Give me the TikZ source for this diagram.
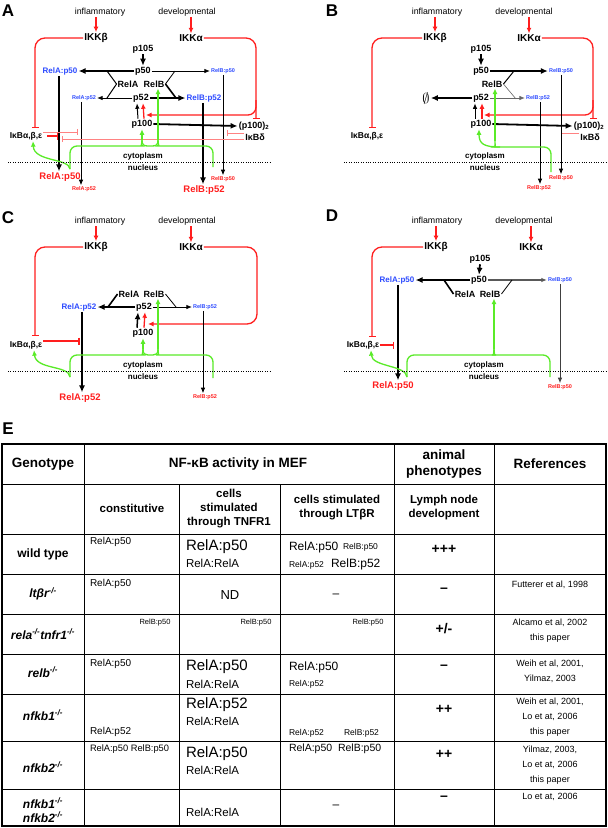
\documentclass[tikz,border=0pt]{standalone}
\usepackage{fontspec}
\setmainfont{Liberation Sans}
\usetikzlibrary{arrows.meta,calc}
\definecolor{nfred}{RGB}{255,30,30}
\definecolor{nfpink}{RGB}{255,130,130}
\definecolor{nfblue}{RGB}{45,75,255}
\definecolor{nfgreen}{RGB}{90,235,40}
\newcommand{\fsz}[2]{\fontsize{#1}{#2}\selectfont}
\newcommand{\ko}{\textsuperscript{-/-}}
\tikzset{
 lbl/.style={font=\fsz{8.8}{10}},
 bb/.style={font=\bfseries\fsz{9}{10}},
 ikk/.style={font=\bfseries\fsz{10}{11}},
 ikbf/.style={font=\bfseries\fsz{8.5}{10}},
 bluebig/.style={font=\bfseries\fsz{8}{9}, text=nfblue},
 bluesm/.style={font=\bfseries\fsz{5.5}{6}, text=nfblue},
 redbig/.style={font=\bfseries\fsz{9.5}{11}, text=nfred},
 redsm/.style={font=\bfseries\fsz{5.5}{6}, text=nfred},
 cyto/.style={font=\bfseries\fsz{8}{9}},
 plbl/.style={font=\bfseries\fsz{17}{18}},
 thk/.style={draw=black, line width=1.8pt, -{Latex[length=7pt,width=6pt]}},
 thn/.style={draw=black, line width=0.8pt, -{Latex[length=5.5pt,width=4.5pt]}},
 rar/.style={draw=nfred, line width=1.3pt, -{Latex[length=5.5pt,width=5pt]}},
 inh/.style={draw=nfred, line width=1.3pt, -{Bar[width=7pt]}},
 pinh/.style={draw=nfpink, line width=1pt, -{Bar[width=6pt]}},
 grn/.style={draw=nfgreen, line width=1.3pt},
 garr/.style={grn, -{Latex[length=5.5pt,width=5pt]}},
 dotl/.style={draw=black, line width=1pt, dash pattern=on 1pt off 1.4pt},
 tline/.style={draw=black, line width=1pt},
 hdr/.style={font=\bfseries\fsz{13.5}{16}, align=center},
 shdr/.style={font=\bfseries\fsz{11.5}{14}, align=center},
 geno/.style={font=\bfseries\itshape\fsz{12}{14}, align=center},
 cellt/.style={anchor=west, inner sep=0pt},
 cbig/.style={cellt, font=\fsz{15}{16}},
 cmed/.style={cellt, font=\fsz{11.5}{13}},
 ctw/.style={cellt, font=\fsz{12}{13}},
 csm/.style={cellt, font=\fsz{10}{11}},
 cxs/.style={cellt, font=\fsz{8.5}{10}},
 ctn/.style={inner sep=0pt, font=\fsz{7.5}{9}},
 refs/.style={font=\fsz{9}{16}, align=center},
 pm/.style={font=\bfseries\fsz{14}{16}},
}
\begin{document}
\begin{tikzpicture}[x=1pt,y=-1pt, every node/.style={inner sep=1.2pt, outer sep=0pt}]
\fill[white] (0,0) rectangle (608,828);
\useasboundingbox (0,0) rectangle (608,828);

%================ PANEL A ================
\node[plbl] (a-lbl) at (8,11) {A};
\node[lbl] (a-infl) at (100,12) {inflammatory};
\node[lbl] (a-dev) at (187,12) {developmental};
\node[ikk] (a-ikkb) at (96,38) {IKKβ};
\node[ikk] (a-ikka) at (191,38) {IKKα};
\node[bb] (a-p105) at (143,49) {p105};
\node[bb] (a-p50) at (143,71) {p50};
\node[bluebig] (a-relap50) at (60,71) {RelA:p50};
\node[bluesm] (a-relbp50) at (223,71) {RelB:p50};
\node[bb] (a-rela) at (128,84) {RelA};
\node[bb] (a-relb) at (154,84) {RelB};
\node[bb] (a-p52) at (141,98) {p52};
\node[bluesm] (a-relap52) at (84,98) {RelA:p52};
\node[bluebig] (a-relbp52) at (204,98) {RelB:p52};
\node[bb] (a-p100) at (142,124) {p100};
\node[bb] (a-p100d) at (254,126) {(p100)\textsubscript{2}};
\node[bb] (a-ikbd) at (255,137) {IκBδ};
\node[ikbf] (a-ikb) at (26,136) {IκBα,β,ε};
\node[cyto] (a-cyto) at (143,156) {cytoplasm};
\node[cyto] (a-nucl) at (143,168) {nucleus};
\node[redbig] (a-nrelap50) at (60,177) {RelA:p50};
\node[redsm] (a-nrelap52) at (84,189) {RelA:p52};
\node[redbig] (a-nrelbp52) at (204,190) {RelB:p52};
\node[redsm] (a-nrelbp50) at (223,179) {RelB:p50};
\coordinate (a-it) at (35,128);
\coordinate (a-it2) at (256,119);
\coordinate (a-rb) at (256,100);
\coordinate (a-rtip) at (146,115);
\coordinate (a-k1) at (107,71);
\coordinate (a-k2) at (107,98);
\coordinate (a-k3) at (175,71);
\coordinate (a-k4) at (176,98);
\coordinate (a-i1) at (78,132);
\coordinate (a-i2) at (58,136);
\coordinate (a-d1) at (227,133);
\coordinate (a-d2) at (62,139);
\coordinate (a-gl) at (70,169);
\coordinate (a-gr) at (213,167);
\coordinate (a-gb1) at (142,140);
\coordinate (a-gb2) at (158,140);
\coordinate (a-dl) at (8,162);
\coordinate (a-dr) at (270,162);
\draw[rar] (a-ikkb.north |- a-infl.south) -- (a-ikkb.north);
\draw[rar] (a-ikka.north |- a-dev.south) -- (a-ikka.north);
\draw[inh, rounded corners=10pt] (a-ikkb.west) -| (a-it);
\draw[inh, rounded corners=10pt] (a-ikka.east) -| (a-it2);
\draw[rar, rounded corners=8pt] (a-rb) |- (a-rtip);
\draw[thk] (a-p105.south) -- (a-p50.north);
\draw[thk] (a-p50.west) -- (a-relap50.east);
\draw[thn] (a-p50.east) -- (a-relbp50.west);
\draw[thn] (a-p52.west) -- (a-relap52.east);
\draw[thk] (a-p52.east) -- (a-relbp52.west);
\draw[thk] (a-p100.east) -- (a-p100d.west);
\draw[line width=1pt] (a-k1) -- (a-rela.west) -- (a-k2);
\draw[line width=0.8pt] (a-k3) -- (a-relb.east);
\draw[line width=1.6pt] (a-relb.east) -- (a-k4);
\draw[thn, line width=1pt] ([xshift=-4pt]a-p100.north) -- ([xshift=-4pt]a-p52.south);
\draw[rar] ([xshift=2pt]a-p100.north) -- ([xshift=2pt]a-p52.south);
\draw[thk] ([xshift=-1pt]a-relap50.south) -- ([xshift=-1pt]a-relap50.south |- a-nrelap50.north);
\draw[thn] ([xshift=-3pt]a-relap52.south) -- ([xshift=-3pt]a-relap52.south |- a-nrelap52.north);
\draw[thk] ([xshift=-1pt]a-relbp52.south) -- ([xshift=-1pt]a-relbp52.south |- a-nrelbp52.north);
\draw[thn] (a-relbp50.south) -- (a-relbp50.south |- a-nrelbp50.north);
\draw[pinh] (a-ikb.east |- a-i1) -- (a-i1);
\draw[inh] ([xshift=4pt]a-ikb.east |- a-i2) -- (a-i2);
\draw[pinh] (a-ikbd.west |- a-d1) -- (a-d1);
\draw[pinh] (a-ikbd.west |- a-d2) -- (a-d2);
\draw[garr] (a-gl) .. controls (69,158) and (34,162) .. ([xshift=7pt]a-ikb.south);
\draw[grn, rounded corners=7pt] (a-gl) |- (136,146) .. controls (140,146) and (142,145) .. (a-gb1);
\draw[garr] (a-gb1) -- (a-p100.south);
\draw[grn] (a-gb1) .. controls (142,145) and (144,146) .. (148,146) -- (152,146) .. controls (156,146) and (158,145) .. (a-gb2);
\draw[garr] (a-gb2) -- ([xshift=4pt]a-relb.south);
\draw[grn, rounded corners=7pt] (a-gr) |- (164,146) .. controls (160,146) and (158,145) .. (a-gb2);
\draw[dotl] (a-dl) -- (a-dr);

%================ PANEL B ================
\node[plbl] (b-lbl) at (332,11) {B};
\node[lbl] (b-infl) at (437,12) {inflammatory};
\node[lbl] (b-dev) at (524,12) {developmental};
\node[ikk] (b-ikkb) at (435,38) {IKKβ};
\node[ikk] (b-ikka) at (529,38) {IKKα};
\node[bb] (b-p105) at (481,49) {p105};
\node[bb] (b-p50) at (481,71) {p50};
\node[bluesm] (b-relbp50) at (561,71) {RelB:p50};
\node[bb] (b-relb) at (492,84) {RelB};
\node[bb] (b-p52) at (481,98) {p52};
\node[font=\fsz{15}{16}] (b-empty) at (426,98) {$\emptyset$};
\node[bluesm] (b-relbp52) at (538,98) {RelB:p52};
\node[bb] (b-p100) at (481,124) {p100};
\node[bb] (b-p100d) at (589,126) {(p100)\textsubscript{2}};
\node[bb] (b-ikbd) at (590,137) {IκBδ};
\node[ikbf] (b-ikb) at (367,136) {IκBα,β,ε};
\node[cyto] (b-cyto) at (485,156) {cytoplasm};
\node[cyto] (b-nucl) at (485,168) {nucleus};
\node[redsm] (b-nrelbp52) at (539,188) {RelB:p52};
\node[redsm] (b-nrelbp50) at (561,178) {RelB:p50};
\coordinate (b-it) at (372,128);
\coordinate (b-it2) at (593,119);
\coordinate (b-rb) at (593,100);
\coordinate (b-rtip) at (484,115);
\coordinate (b-k1) at (514,71);
\coordinate (b-k2) at (516,99);
\coordinate (b-d1) at (561,133);
\coordinate (b-gr) at (551,172);
\coordinate (b-gj) at (500,147);
\coordinate (b-gb) at (495,141);
\coordinate (b-dl) at (344,162);
\coordinate (b-dr) at (608,162);
\draw[rar] (b-ikkb.north |- b-infl.south) -- (b-ikkb.north);
\draw[rar] (b-ikka.north |- b-dev.south) -- (b-ikka.north);
\draw[inh, rounded corners=10pt] (b-ikkb.west) -| (b-it);
\draw[inh, rounded corners=10pt] (b-ikka.east) -| (b-it2);
\draw[rar, rounded corners=8pt] (b-rb) |- (b-rtip);
\draw[thk] (b-p105.south) -- (b-p50.north);
\draw[thk] (b-p50.east) -- (b-relbp50.west);
\draw[thk, line width=1.4pt] (b-p52.west) -- (b-empty.east);
\draw[thn, draw=black!60] (b-p52.east) -- (b-relbp52.west);
\draw[line width=1pt] (b-k1) -- (b-relb.east);
\draw[line width=0.6pt, black!60] (b-relb.east) -- (b-k2);
\draw[thn, line width=1pt] ([xshift=-6pt]b-p100.north) -- ([xshift=-6pt]b-p52.south);
\draw[rar] ([xshift=1pt]b-p100.north) -- ([xshift=1pt]b-p52.south);
\draw[thk] (b-p100.east) -- (b-p100d.west);
\draw[pinh] (b-ikbd.west |- b-d1) -- (b-d1);
\draw[thn] ([xshift=2pt]b-relbp52.south) -- ([xshift=2pt]b-relbp52.south |- b-nrelbp52.north);
\draw[thn] (b-relbp50.south) -- (b-relbp50.south |- b-nrelbp50.north);
\draw[grn, rounded corners=7pt] (b-gr) |- (b-gj) .. controls (496,147) and (495,146) .. (b-gb);
\draw[garr] (b-gb) -- ([xshift=3pt]b-relb.south);
\draw[garr] (b-gj) .. controls (484,147) and (479,144) .. ([xshift=-2pt]b-p100.south);
\draw[dotl] (b-dl) -- (b-dr);

%================ PANEL C ================
\node[plbl] (c-lbl) at (8,218) {C};
\node[lbl] (c-infl) at (100,221) {inflammatory};
\node[lbl] (c-dev) at (187,221) {developmental};
\node[ikk] (c-ikkb) at (96,247) {IKKβ};
\node[ikk] (c-ikka) at (191,247) {IKKα};
\node[bb] (c-rela) at (129,294) {RelA};
\node[bb] (c-relb) at (154,294) {RelB};
\node[bb] (c-p52) at (144,307) {p52};
\node[bluebig] (c-relap52) at (79,307) {RelA:p52};
\node[bluesm] (c-relbp52) at (205,307) {RelB:p52};
\node[bb] (c-p100) at (143,333) {p100};
\node[ikbf] (c-ikb) at (26,345) {IκBα,β,ε};
\node[cyto] (c-cyto) at (143,365) {cytoplasm};
\node[cyto] (c-nucl) at (143,377) {nucleus};
\node[redbig] (c-nrelap52) at (80,398) {RelA:p52};
\node[redsm] (c-nrelbp52) at (205,397) {RelB:p52};
\coordinate (c-it) at (35,336);
\coordinate (c-rc) at (257,324);
\coordinate (c-rtip) at (148,324);
\coordinate (c-k1) at (108,307);
\coordinate (c-k2) at (176,307);
\coordinate (c-i1) at (80,341);
\coordinate (c-gl) at (70,377);
\coordinate (c-gr) at (213,378);
\coordinate (c-gb1) at (143,349);
\coordinate (c-gb2) at (158,349);
\coordinate (c-dl) at (8,371);
\coordinate (c-dr) at (270,371);
\draw[rar] (c-ikkb.north |- c-infl.south) -- (c-ikkb.north);
\draw[rar] (c-ikka.north |- c-dev.south) -- (c-ikka.north);
\draw[inh, rounded corners=10pt] (c-ikkb.west) -| (c-it);
\draw[rar, rounded corners=10pt] (c-ikka.east) -| (c-rc) -- (c-rtip);
\draw[thk] (c-p52.west) -- (c-relap52.east);
\draw[thn] (c-p52.east) -- (c-relbp52.west);
\draw[line width=1.6pt] (c-rela.west) -- (c-k1);
\draw[line width=0.8pt] (c-relb.east) -- (c-k2);
\draw[thk, line width=1.5pt] ([xshift=-6pt]c-p100.north) -- ([xshift=-6pt]c-p52.south);
\draw[rar] ([xshift=1pt]c-p100.north) -- ([xshift=1pt]c-p52.south);
\draw[inh, line width=1.6pt] (c-ikb.east |- c-i1) -- (c-i1);
\draw[thk] ([xshift=3pt]c-relap52.south) -- ([xshift=3pt]c-relap52.south |- c-nrelap52.north);
\draw[thn] ([xshift=-2pt]c-relbp52.south) -- ([xshift=-2pt]c-relbp52.south |- c-nrelbp52.north);
\draw[garr] (c-gl) .. controls (69,365) and (36,370) .. ([xshift=8pt]c-ikb.south);
\draw[grn, rounded corners=7pt] (c-gl) |- (137,355) .. controls (141,355) and (143,354) .. (c-gb1);
\draw[garr] (c-gb1) -- (c-p100.south);
\draw[grn] (c-gb1) .. controls (143,354) and (145,355) .. (148,355) -- (153,355) .. controls (156,355) and (158,354) .. (c-gb2);
\draw[garr] (c-gb2) -- ([xshift=4pt]c-relb.south);
\draw[grn, rounded corners=7pt] (c-gr) |- (163,355) .. controls (160,355) and (158,354) .. (c-gb2);
\draw[dotl] (c-dl) -- (c-dr);

%================ PANEL D ================
\node[plbl] (d-lbl) at (332,216) {D};
\node[lbl] (d-infl) at (437,221) {inflammatory};
\node[lbl] (d-dev) at (524,221) {developmental};
\node[ikk] (d-ikkb) at (436,247) {IKKβ};
\node[ikk] (d-ikka) at (531,247) {IKKα};
\node[bb] (d-p105) at (480,259) {p105};
\node[bb] (d-p50) at (479,280) {p50};
\node[bluebig] (d-relap50) at (397,280) {RelA:p50};
\node[bluesm] (d-relbp50) at (560,280) {RelB:p50};
\node[bb] (d-rela) at (465,294) {RelA};
\node[bb] (d-relb) at (490,294) {RelB};
\node[ikbf] (d-ikb) at (363,345) {IκBα,β,ε};
\node[cyto] (d-cyto) at (484,365) {cytoplasm};
\node[cyto] (d-nucl) at (484,377) {nucleus};
\node[redbig] (d-nrelap50) at (393,386) {RelA:p50};
\node[redsm] (d-nrelbp50) at (560,387) {RelB:p50};
\coordinate (d-it) at (372,337);
\coordinate (d-i1) at (394,345);
\coordinate (d-k1) at (444,280);
\coordinate (d-k2) at (512,280);
\coordinate (d-gl) at (407,377);
\coordinate (d-gr) at (550,377);
\coordinate (d-gb) at (494,349);
\coordinate (d-dl) at (344,371);
\coordinate (d-dr) at (608,371);
\draw[rar] (d-ikkb.north |- d-infl.south) -- (d-ikkb.north);
\draw[rar] (d-ikka.north |- d-dev.south) -- (d-ikka.north);
\draw[inh, rounded corners=10pt] (d-ikkb.west) -| (d-it);
\draw[inh] (d-ikb.east |- d-i1) -- (d-i1);
\draw[thk] (d-p105.south) -- (d-p50.north);
\draw[thk] (d-p50.west) -- (d-relap50.east);
\draw[thn, line width=1.2pt, draw=black!65] (d-p50.east) -- (d-relbp50.west);
\draw[line width=1.6pt] (d-k1) -- (d-rela.west);
\draw[line width=0.8pt] (d-k2) -- (d-relb.east);
\draw[thk] ([xshift=1pt]d-relap50.south) -- ([xshift=1pt]d-relap50.south |- d-nrelap50.north);
\draw[thn, line width=1pt, draw=black!75] (d-relbp50.south) -- (d-relbp50.south |- d-nrelbp50.north);
\draw[garr] (d-gl) .. controls (406,365) and (372,367) .. ([xshift=8pt]d-ikb.south);
\draw[grn, rounded corners=7pt] (d-gl) |- (489,355) .. controls (492,355) and (494,354) .. (d-gb);
\draw[garr] (d-gb) -- ([xshift=4pt]d-relb.south);
\draw[grn, rounded corners=7pt] (d-gr) |- (499,355) .. controls (496,355) and (494,354) .. (d-gb);
\draw[dotl] (d-dl) -- (d-dr);

%================ PANEL E (table) ================
\node[plbl] (e-lbl) at (8,429) {E};
\draw[line width=2.2pt] (2,444) rectangle (606,826);
\foreach \yy in {484,534,574,614,654,694,741,789} \draw[tline] (2,\yy) -- (606,\yy);
\foreach \xx in {84,394,494} \draw[tline] (\xx,444) -- (\xx,826);
\foreach \xx in {179,280} \draw[tline] (\xx,484) -- (\xx,826);
% headers
\node[hdr] (e-h1) at (43,464) {Genotype};
\node[hdr] (e-h2) at (238,464) {NF-κB activity in MEF};
\node[hdr] (e-h3) at (444,464) {animal\\phenotypes};
\node[hdr] (e-h4) at (550,464) {References};
\node[shdr] (e-s1) at (132,508) {constitutive};
\node[shdr] (e-s2) at (229,509) {cells\\stimulated\\through TNFR1};
\node[shdr] (e-s3) at (337,508) {cells stimulated\\through LTβR};
\node[shdr] (e-s4) at (444,508) {Lymph node\\development};
% wild type
\node[font=\bfseries\fsz{12}{14}] (e-g1) at (43,554) {wild type};
\node[csm] (e-c1) at (90,542) {RelA:p50};
\node[cbig] (e-t1a) at (186,547) {RelA:p50};
\node[cmed] (e-t1b) at (186,563) {RelA:RelA};
\node[ctw] (e-l1a) at (289,547) {RelA:p50};
\node[cxs] (e-l1b) at (343,547) {RelB:p50};
\node[cxs] (e-l1c) at (289,565) {RelA:p52};
\node[ctw] (e-l1d) at (331,564) {RelB:p52};
\node[pm] (e-p1) at (444,549) {+++};
% ltbr
\node[geno] (e-g2) at (43,594) {ltβr\ko};
\node[csm] (e-c2) at (90,584) {RelA:p50};
\node[font=\fsz{13}{14}] (e-t2) at (230,595) {ND};
\node[font=\fsz{12}{14}] (e-l2) at (336,596) {–};
\node[pm] (e-p2) at (444,590) {–};
\node[refs] (e-r2) at (550,585) {Futterer et al, 1998};
% rela tnfr1
\node[geno] (e-g3) at (43,634) {rela\ko tnfr1\ko};
\node[ctn] (e-c3) at (155,623) {RelB:p50};
\node[ctn] (e-t3) at (256,623) {RelB:p50};
\node[ctn] (e-l3) at (368,623) {RelB:p50};
\node[pm] (e-p3) at (444,629) {+/-};
\node[refs, font=\fsz{9}{15}] (e-r3) at (550,631) {Alcamo et al, 2002\\this paper};
% relb
\node[geno] (e-g4) at (43,672) {relb\ko};
\node[csm] (e-c4) at (90,664) {RelA:p50};
\node[cbig] (e-t4a) at (186,667) {RelA:p50};
\node[cmed] (e-t4b) at (186,684) {RelA:RelA};
\node[ctw] (e-l4a) at (289,667) {RelA:p50};
\node[cxs] (e-l4b) at (289,684) {RelA:p52};
\node[pm] (e-p4) at (444,667) {–};
\node[refs, font=\fsz{9}{15}] (e-r4) at (550,671) {Weih et al, 2001,\\Yilmaz, 2003};
% nfkb1
\node[geno] (e-g5) at (43,715) {nfkb1\ko};
\node[csm] (e-c5) at (90,732) {RelA:p52};
\node[cbig] (e-t5a) at (186,705) {RelA:p52};
\node[cmed] (e-t5b) at (186,721) {RelA:RelA};
\node[cxs] (e-l5a) at (289,733) {RelA:p52};
\node[cxs] (e-l5b) at (344,733) {RelB:p52};
\node[pm] (e-p5) at (444,709) {++};
\node[refs, font=\fsz{9}{15}] (e-r5) at (550,717) {Weih et al, 2001,\\Lo et at, 2006\\this paper};
% nfkb2
\node[geno] (e-g6) at (43,767) {nfkb2\ko};
\node[cellt, font=\fsz{9.3}{11}] (e-c6) at (90,749) {RelA:p50 RelB:p50};
\node[cbig] (e-t6a) at (186,754) {RelA:p50};
\node[cmed] (e-t6b) at (186,770) {RelA:RelA};
\node[cellt, font=\fsz{10.5}{12}] (e-l6) at (289,749) {RelA:p50\ \ RelB:p50};
\node[pm] (e-p6) at (444,754) {++};
\node[refs, font=\fsz{9}{15}] (e-r6) at (550,765) {Yilmaz, 2003,\\Lo et at, 2006\\this paper};
% nfkb1 nfkb2
\node[geno] (e-g7) at (43,810) {nfkb1\ko\\nfkb2\ko};
\node[cmed] (e-t7) at (186,812) {RelA:RelA};
\node[font=\fsz{12}{14}] (e-l7) at (336,807) {–};
\node[pm] (e-p7) at (444,798) {–};
\node[refs] (e-r7) at (550,797) {Lo et at, 2006};
\end{tikzpicture}
\end{document}
